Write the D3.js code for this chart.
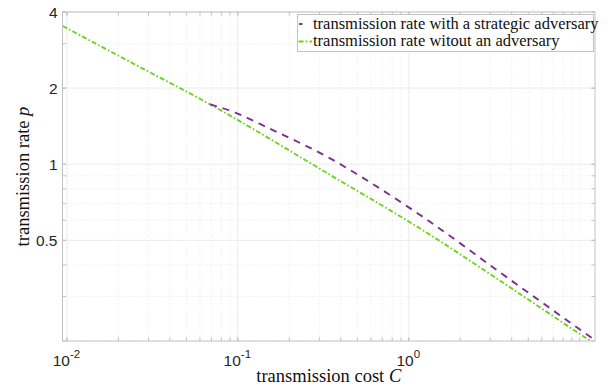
<!DOCTYPE html>
<html>
<head>
<meta charset="utf-8">
<script src="https://cdn.jsdelivr.net/npm/d3@7"></script>
<style>
  html, body { margin: 0; padding: 0; background: #fff; }
  svg { display: block; }
</style>
</head>
<body>
<svg id="chart" width="613" height="390"></svg>
<script>
// Transmission rate p as a function of transmission cost C
const costNoAdversary = [0.00945, 0.02346, 0.06887, 0.3465, 1.3321, 3.4199, 11.488, 12.63];
const rateNoAdversary = [3.522, 2.538, 1.7245, 0.9081, 0.5262, 0.3463, 0.2007, 0.1925];

const costAdversary = [0.06887, 0.09643, 0.15448, 0.3465, 0.5424, 0.9946, 1.3321, 3.4199, 5.8604, 12.29];
const rateAdversary = [1.7245, 1.6006, 1.380, 1.0551, 0.8813, 0.6770, 0.5919, 0.3735, 0.2878, 0.2013];

const xTicks = [0.01, 0.1, 1];
const xTickExponents = ["-2", "-1", "0"];
const yTicks = [0.5, 1, 2, 4];
const yTickLabels = ["0.5", "1", "2", "4"];

const legendLabels = [
  "transmission rate with a strategic adversary",
  "transmission rate witout an adversary"
];

const xDomain = [0.00942, 12.29];
const yDomain = [0.2, 4];

const svg = d3.select("#chart");
const L = 62.5, R = 595, T = 12, B = 341;

const x = d3.scaleLog().domain(xDomain).range([L, R]);
const y = d3.scaleLog().base(2).domain(yDomain).range([B, T]);

// minor tick positions
const xMinor = [];
for (let e = -3; e <= 1; e++) {
  for (let m = 1; m <= 9; m++) {
    const v = m * Math.pow(10, e);
    if (v >= xDomain[0] && v <= xDomain[1]) xMinor.push(v);
  }
}
const yMinor = [];
for (let e = -1; e <= 0; e++) {
  for (let m = 1; m <= 9; m++) {
    const v = m * Math.pow(10, e);
    if (v >= yDomain[0] && v <= yDomain[1]) yMinor.push(v);
  }
}

const g = svg.append("g");

// minor grid (dotted)
g.selectAll("line.xminor").data(xMinor).join("line")
  .attr("x1", d => x(d)).attr("x2", d => x(d))
  .attr("y1", T).attr("y2", B)
  .attr("stroke", "#e6e6e6").attr("stroke-width", 0.8)
  .attr("stroke-dasharray", "1,2");
g.selectAll("line.yminor").data(yMinor).join("line")
  .attr("y1", d => y(d)).attr("y2", d => y(d))
  .attr("x1", L).attr("x2", R)
  .attr("stroke", "#e6e6e6").attr("stroke-width", 0.8)
  .attr("stroke-dasharray", "1,2");

// major grid
g.selectAll("line.xmajor").data(xTicks).join("line")
  .attr("x1", d => x(d)).attr("x2", d => x(d))
  .attr("y1", T).attr("y2", B)
  .attr("stroke", "#ebebeb").attr("stroke-width", 0.8);
g.selectAll("line.ymajor").data(yTicks).join("line")
  .attr("y1", d => y(d)).attr("y2", d => y(d))
  .attr("x1", L).attr("x2", R)
  .attr("stroke", "#ebebeb").attr("stroke-width", 0.8);

// curves
const clipId = "plotClip";
svg.append("clipPath").attr("id", clipId)
  .append("rect").attr("x", L).attr("y", T).attr("width", R - L).attr("height", B - T);

const line = d3.line()
  .x(d => x(d[0])).y(d => y(d[1]))
  .curve(d3.curveMonotoneX);

const ptsNo = costNoAdversary.map((c, i) => [c, rateNoAdversary[i]]);
const ptsAd = costAdversary.map((c, i) => [c, rateAdversary[i]]);

const purple = "#7e2f8e";
const green = "#70d21e";

const plot = svg.append("g").attr("clip-path", `url(#${clipId})`);
plot.append("path").datum(ptsNo)
  .attr("d", line).attr("fill", "none")
  .attr("stroke", green).attr("stroke-width", 1.9)
  .attr("stroke-dasharray", "5,2.2,1.6,2.2");
plot.append("path").datum(ptsAd)
  .attr("d", line).attr("fill", "none")
  .attr("stroke", purple).attr("stroke-width", 1.9)
  .attr("stroke-dasharray", "7,6");

// axes box
const axisColor = "#c2c2c2";
svg.append("rect").attr("x", L).attr("y", T).attr("width", R - L).attr("height", B - T)
  .attr("fill", "none").attr("stroke", axisColor).attr("stroke-width", 1);

// tick marks (inward, mirrored)
const tk = 3.5;
const xAll = xMinor.concat(xTicks);
const yAll = yMinor.concat(yTicks);
const ticks = svg.append("g").attr("stroke", axisColor).attr("stroke-width", 1);
xAll.forEach(v => {
  ticks.append("line").attr("x1", x(v)).attr("x2", x(v)).attr("y1", B).attr("y2", B - tk);
  ticks.append("line").attr("x1", x(v)).attr("x2", x(v)).attr("y1", T).attr("y2", T + tk);
});
yAll.forEach(v => {
  ticks.append("line").attr("y1", y(v)).attr("y2", y(v)).attr("x1", L).attr("x2", L + tk);
  ticks.append("line").attr("y1", y(v)).attr("y2", y(v)).attr("x1", R).attr("x2", R - tk);
});

// tick labels
const tickFont = "Liberation Sans, Arial, sans-serif";
const tickColor = "#262626";
xTicks.forEach((v, i) => {
  const t = svg.append("text")
    .attr("x", x(v) - 0.5).attr("y", 366)
    .attr("text-anchor", "middle")
    .attr("font-family", tickFont).attr("font-size", 15.5)
    .attr("fill", tickColor);
  t.append("tspan").text("10");
  t.append("tspan").attr("dy", -8).attr("font-size", 11.5).text(xTickExponents[i]);
});
yTicks.forEach((v, i) => {
  svg.append("text")
    .attr("x", 57.5).attr("y", y(v) + 5.5)
    .attr("text-anchor", "end")
    .attr("font-family", tickFont).attr("font-size", 15.5)
    .attr("fill", tickColor)
    .text(yTickLabels[i]);
});

// axis labels
const serif = "Liberation Serif, 'Times New Roman', serif";
const xl = svg.append("text")
  .attr("x", (L + R) / 2).attr("y", 382)
  .attr("text-anchor", "middle")
  .attr("font-family", serif).attr("font-size", 18.5).attr("fill", "#111");
xl.append("tspan").text("transmission cost ");
xl.append("tspan").attr("font-style", "italic").text("C");

const yl = svg.append("text")
  .attr("transform", `translate(29,${(T + B) / 2}) rotate(-90)`)
  .attr("text-anchor", "middle")
  .attr("font-family", serif).attr("font-size", 18.5).attr("fill", "#111");
yl.append("tspan").text("transmission rate ");
yl.append("tspan").attr("font-style", "italic").text("p");

// legend
const lg = svg.append("g");
lg.append("rect").attr("x", 297.5).attr("y", 14.5).attr("width", 296).attr("height", 37)
  .attr("fill", "#fff").attr("stroke", axisColor).attr("stroke-width", 1);
lg.append("line").attr("x1", 299).attr("x2", 302.5).attr("y1", 24).attr("y2", 24)
  .attr("stroke", purple).attr("stroke-width", 1.9);
lg.append("line").attr("x1", 298.5).attr("x2", 312).attr("y1", 41.5).attr("y2", 41.5)
  .attr("stroke", green).attr("stroke-width", 1.9)
  .attr("stroke-dasharray", "5,2.2,1.6,2.2");
legendLabels.forEach((s, i) => {
  lg.append("text")
    .attr("x", 313).attr("y", i === 0 ? 28.5 : 46)
    .attr("font-family", serif).attr("font-size", 16.5).attr("fill", "#111")
    .text(s);
});
</script>
</body>
</html>
